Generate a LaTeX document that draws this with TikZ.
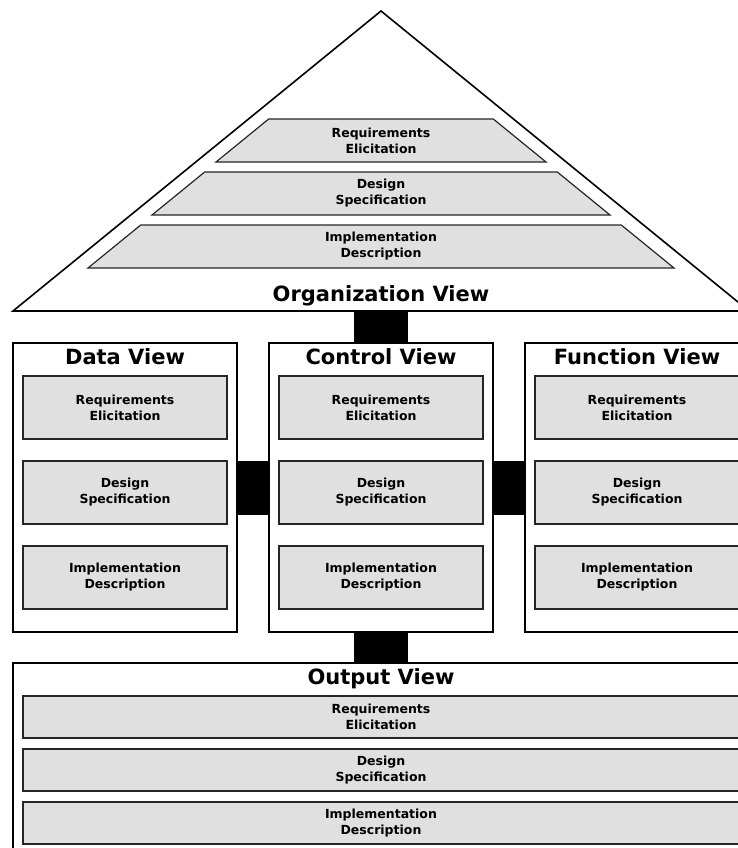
\documentclass[tikz,border=0pt]{standalone}
\usepackage{fontspec}
\setmainfont{DejaVu Sans}
\usetikzlibrary{positioning}

\definecolor{phasegray}{HTML}{E0E0E0}

\tikzset{
  view/.style={draw=black, line width=1.6pt, fill=white, outer sep=0pt, inner sep=0pt},
  phase/.style={draw=black!85, line width=1.2pt, fill=phasegray, outer sep=0pt, inner sep=0pt,
    align=center, font=\bfseries\fontsize{12.5}{16}\selectfont},
  colphase/.style={phase, minimum width=204pt, minimum height=63pt},
  rowphase/.style={phase, minimum width=716pt, minimum height=42pt},
  viewtitle/.style={font=\bfseries\fontsize{21}{24}\selectfont, inner sep=0pt, anchor=base},
  link/.style={line width=54pt, black},
}

\begin{document}
\begin{tikzpicture}[x=1pt, y=-1pt]
  \useasboundingbox (0,0) rectangle (738,848);
  \clip (0,0) rectangle (738,848);

  % organization view
  \draw[line width=1.6pt] (13,311) -- (381,11) -- (749,311) -- cycle;
  \foreach \b/\h/\t in {162/165/{Requirements\\Elicitation},
                        215/229/{Design\\Specification},
                        268/293/{Implementation\\Description}} {
    \draw[phase] (381-\h,\b) -- (381-\h+52.7,\b-43) -- (381+\h-52.7,\b-43)
      -- (381+\h,\b) -- cycle;
    \node[font=\bfseries\fontsize{12.5}{16}\selectfont, align=center] at (381,\b-21.5) {\t};
  }
  \node[viewtitle] (org) at (381,301) {Organization View};
  \coordinate (orgbase) at (381,311);

  % data, control and function views
  \node[view, minimum width=224pt, minimum height=289pt] (ctrl) at (381,487.5) {};
  \node[view, minimum width=224pt, minimum height=289pt, left=32pt of ctrl] (data) {};
  \node[view, minimum width=224pt, minimum height=289pt, right=32pt of ctrl] (func) {};
  \foreach \v/\t in {data/Data View, ctrl/Control View, func/Function View} {
    \node[viewtitle] at ([yshift=-21pt]\v.north) {\t};
    \node[colphase, below=33pt of \v.north] (\v-req) {Requirements\\Elicitation};
    \node[colphase, below=22pt of \v-req] (\v-des) {Design\\Specification};
    \node[colphase, below=22pt of \v-des] (\v-imp) {Implementation\\Description};
  }

  % output view
  \node[view, minimum width=736pt, minimum height=193pt, below=31pt of ctrl] (out) {};
  \node[viewtitle] at ([yshift=-21pt]out.north) {Output View};
  \node[rowphase, below=33pt of out.north] (out-req) {Requirements\\Elicitation};
  \node[rowphase, below=11pt of out-req] (out-des) {Design\\Specification};
  \node[rowphase, below=11pt of out-des] (out-imp) {Implementation\\Description};

  % links
  \draw[link] (orgbase) -- (ctrl.north);
  \draw[link] (data.east) -- (ctrl.west);
  \draw[link] (ctrl.east) -- (func.west);
  \draw[link] (ctrl.south) -- (out.north);
\end{tikzpicture}
\end{document}
